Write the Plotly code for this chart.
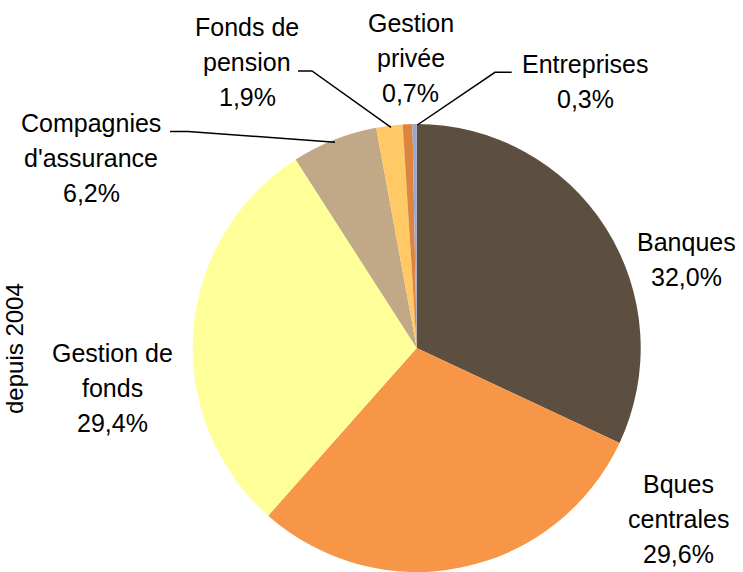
import plotly.graph_objects as go

# ---- data ----
categories = ["Banques", "Bques centrales", "Gestion de fonds", "Compagnies d'assurance",
              "Fonds de pension", "Gestion privée", "Entreprises"]
shares = [32.0, 29.6, 29.4, 6.2, 1.9, 0.7, 0.3]
label_lines = [["Banques"], ["Bques", "centrales"], ["Gestion de", "fonds"],
               ["Compagnies", "d'assurance"], ["Fonds de", "pension"], ["Gestion", "privée"],
               ["Entreprises"]]
side_title = "depuis 2004"

# ---- style / layout ----
colors = ["#5C4F3F", "#F79646", "#FFFF99", "#C1A887", "#FFC966", "#DD8540", "#95A9D3"]
W, H = 743, 572
CX, CY, R = 416.7, 348.0, 224.0

# label placement: center x, first baseline y (pixels from top)
label_pos = [(686, 251), (678, 493), (112, 362), (91, 132), (247, 36), (411, 32), (585, 73)]
LINE_GAP = 35
FS = 25
FONT = "Liberation Sans, Arial, sans-serif"

def px(x):
    return x / W

def py(y):
    return 1 - y / H

fig = go.Figure(go.Pie(
    labels=categories,
    values=shares,
    sort=False,
    direction="clockwise",
    rotation=0,
    marker=dict(colors=colors, line=dict(width=0)),
    textinfo="none",
    hoverinfo="label+percent",
    showlegend=False,
    domain=dict(x=[px(CX - R), px(CX + R)], y=[0, (2 * R) / H]),
))

annotations = []
for lines, v, (lx, ly) in zip(label_lines, shares, label_pos):
    all_lines = lines + [f"{v:.1f}".replace(".", ",") + "%"]
    for i, t in enumerate(all_lines):
        base = ly + i * LINE_GAP
        annotations.append(dict(
            x=px(lx), y=py(base - 0.35 * FS), xref="paper", yref="paper",
            text=t, showarrow=False, xanchor="center", yanchor="middle",
            font=dict(family=FONT, size=FS, color="#000000"),
        ))

annotations.append(dict(
    x=px(14), y=py(349), xref="paper", yref="paper", text=side_title,
    showarrow=False, textangle=-90, xanchor="center", yanchor="middle",
    font=dict(family=FONT, size=24, color="#000000"),
))

leaders = [
    [(170, 131.5), (188, 131.5), (335, 142.3)],
    [(298, 71), (312, 71), (391, 127.3)],
    [(511.7, 72.3), (495, 72.3), (417.3, 125)],
]
shapes = []
for pts in leaders:
    path = "M " + " L ".join(f"{px(x):.5f},{py(y):.5f}" for x, y in pts)
    shapes.append(dict(type="path", path=path, xref="paper", yref="paper",
                       line=dict(color="#000000", width=1.5)))

fig.update_layout(
    width=W, height=H,
    margin=dict(l=0, r=0, t=0, b=0),
    paper_bgcolor="#FFFFFF", plot_bgcolor="#FFFFFF",
    annotations=annotations, shapes=shapes,
)

fig.write_html(
    "out.html",
    config={"displayModeBar": False},
    post_script="document.body.style.margin='0';document.body.style.overflow='hidden';",
)
